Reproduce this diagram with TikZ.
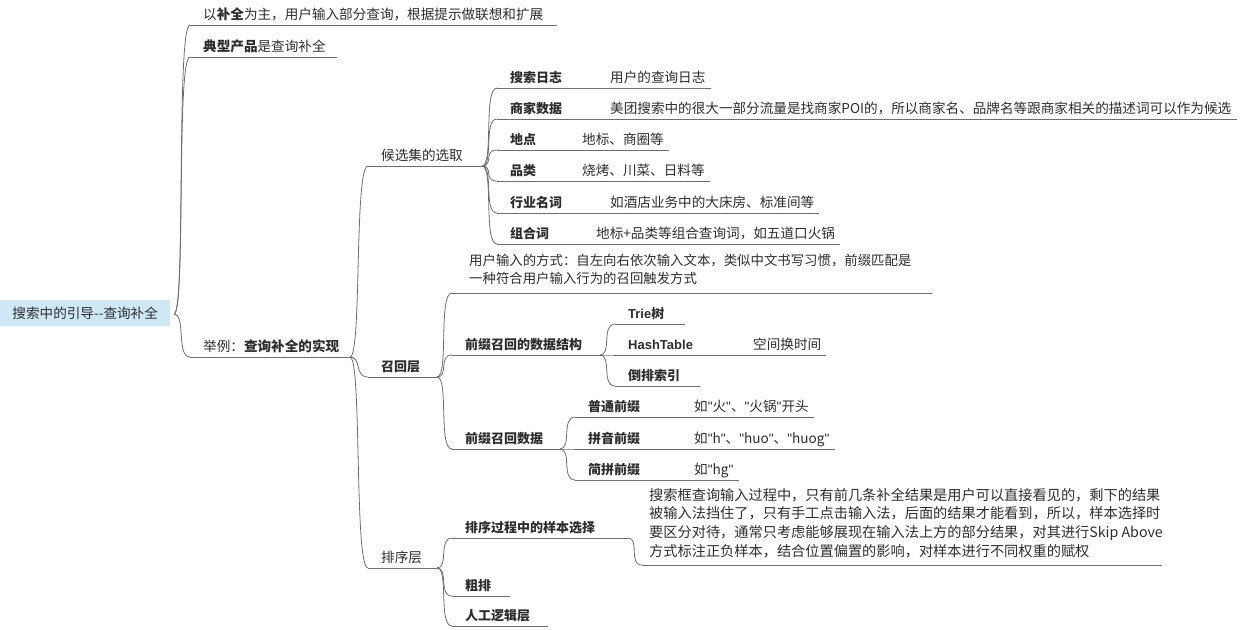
\documentclass[tikz,border=0pt]{standalone}
\usepackage{fontspec}
\usetikzlibrary{calc}
\setmainfont{Noto Sans CJK SC}
\newfontfamily\latinb{Liberation Sans}
\definecolor{txt}{RGB}{45,45,45}
\definecolor{ln}{RGB}{110,110,110}
\definecolor{rootbg}{RGB}{206,232,246}
\newcommand\qq{{\latinb\symbol{34}}}
\tikzset{
  uline/.style={draw=ln,line width=0.8pt},
  conn/.style={draw=ln,line width=0.8pt,to path={.. controls ($(\tikztostart)+(12,0)$) and ($(\tikztotarget)+(-14,0)$) .. (\tikztotarget)}},
  lbl/.style={anchor=base west,inner sep=0pt,text=txt,font=\fontsize{13.6}{15}\selectfont},
  blbl/.style={lbl,font=\fontsize{13}{15}\selectfont\bfseries},
}
% \mm{name}{start x}{line y}{end x}{style}{text}
\newcommand\mm[6]{%
  \coordinate (#1-s) at (#2,#3);
  \coordinate (#1-e) at (#4,#3);
  \draw[uline] (#1-s) -- (#1-e);
  \node[#5] (#1) at (#2+13,#3-6) {#6};}
\newcommand\leaf[5]{\node[lbl] (#1) at (#2,#3-6) {#4};\draw[uline] (#5-e) -- ($(#1.base east |- #5-e)+(5,0)$);}
\begin{document}
\begin{tikzpicture}[x=1pt,y=-1pt]
\useasboundingbox (0,0) rectangle (1241,629);
% root
\node[fill=rootbg,minimum width=170pt,minimum height=26pt,inner sep=0pt,anchor=north west,text=txt,font=\fontsize{13.6}{15}\selectfont] (root) at (0,300) {搜索中的引导-{}-查询补全};
\coordinate (root-e) at (174,314);
% level 1
\mm{a}{190}{25}{557}{lbl}{以\textbf{补全}为主，用户输入部分查询，根据提示做联想和扩展}
\mm{b}{190}{57}{337}{lbl}{\textbf{典型产品}是查询补全}
\mm{c}{190}{357}{350}{lbl}{举例：\textbf{查询补全的实现}}
\foreach \n in {a,b,c} \draw[conn] (root-e) to (\n-s);
% level 2
\mm{d}{368}{166}{482}{lbl}{候选集的选取}
\mm{e}{368}{377}{437}{blbl}{召回层}
\mm{f}{368}{568}{437}{lbl}{排序层}
\foreach \n in {d,e,f} \draw[conn] (c-e) to (\n-s);
% candidate set children
\mm{d1}{497}{88}{600}{blbl}{搜索日志}
\mm{d2}{497}{119}{600}{blbl}{商家数据}
\mm{d3}{497}{150}{575}{blbl}{地点}
\mm{d4}{497}{181}{575}{blbl}{品类}
\mm{d5}{497}{213}{600}{blbl}{行业名词}
\mm{d6}{497}{244}{590}{blbl}{组合词}
\foreach \n in {d1,d2,d3,d4,d5,d6} \draw[conn] (d-e) to (\n-s);
\leaf{l1}{610}{88}{用户的查询日志}{d1}
\leaf{l2}{610}{119}{美团搜索中的很大一部分流量是找商家POI的，所以商家名、品牌名等跟商家相关的描述词可以作为候选}{d2}
\leaf{l3}{582}{150}{地标、商圈等}{d3}
\leaf{l4}{582}{181}{烧烤、川菜、日料等}{d4}
\leaf{l5}{610}{213}{如酒店业务中的大床房、标准间等}{d5}
\leaf{l6}{596}{244}{地标+品类等组合查询词，如五道口火锅}{d6}
% recall children
\coordinate (e1-s) at (452,293);
\coordinate (e1-e) at (932,293);
\draw[uline] (e1-s) -- (e1-e);
\node[lbl,anchor=north west,align=left,font=\fontsize{13.4}{18}\selectfont] (e1) at (469,254) {用户输入的方式：自左向右依次输入文本，类似中文书写习惯，前缀匹配是\\一种符合用户输入行为的召回触发方式};
\mm{e2}{452}{355}{600}{blbl}{前缀召回的数据结构}
\mm{e3}{452}{449}{560}{blbl}{前缀召回数据}
\foreach \n in {e1,e2,e3} \draw[conn] (e-e) to (\n-s);
\mm{g1}{615}{324}{685}{blbl}{\latinb\bfseries Trie\normalfont\bfseries 树}
\mm{g2}{615}{355}{740}{blbl}{\latinb\bfseries HashTable}
\mm{g3}{615}{386}{700}{blbl}{倒排索引}
\foreach \n in {g1,g2,g3} \draw[conn] (e2-e) to (\n-s);
\leaf{m2}{753}{355}{空间换时间}{g2}
\mm{h1}{575}{417}{680}{blbl}{普通前缀}
\mm{h2}{575}{449}{680}{blbl}{拼音前缀}
\mm{h3}{575}{480}{680}{blbl}{简拼前缀}
\foreach \n in {h1,h2,h3} \draw[conn] (e3-e) to (\n-s);
\leaf{n1}{694}{417}{如\qq 火\qq 、\qq 火锅\qq 开头}{h1}
\leaf{n2}{694}{449}{如\qq h\qq 、\qq huo\qq 、\qq huog\qq}{h2}
\leaf{n3}{694}{480}{如\qq hg\qq}{h3}
% ranking children
\mm{f1}{452}{538}{628}{blbl}{排序过程中的样本选择}
\mm{f2}{452}{596}{510}{blbl}{粗排}
\mm{f3}{452}{626}{548}{blbl}{人工逻辑层}
\foreach \n in {f1,f2,f3} \draw[conn] (f-e) to (\n-s);
\coordinate (p-s) at (642,565);
\coordinate (p-e) at (1162,565);
\draw[uline] (p-s) -- (p-e);
\draw[conn] (f1-e) to (p-s);
\node[lbl,anchor=north west,align=left,font=\fontsize{14.2}{18.7}\selectfont] (p) at (649,488) {搜索框查询输入过程中，只有前几条补全结果是用户可以直接看见的，剩下的结果\\被输入法挡住了，只有手工点击输入法，后面的结果才能看到，所以，样本选择时\\要区分对待，通常只考虑能够展现在输入法上方的部分结果，对其进行Skip Above\\方式标注正负样本，结合位置偏置的影响，对样本进行不同权重的赋权};
\end{tikzpicture}
\end{document}
